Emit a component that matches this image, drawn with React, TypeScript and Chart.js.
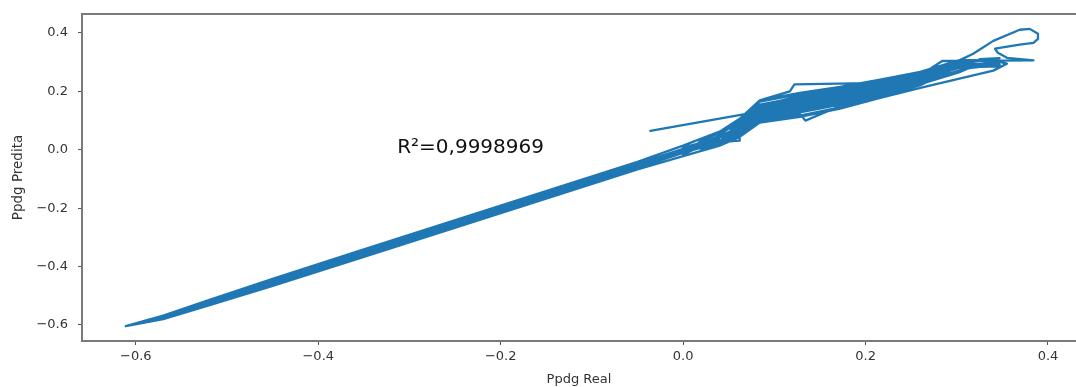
import { useEffect, useRef } from "react";
import { Chart, registerables } from "chart.js";

Chart.register(...registerables);

// Series: Ppdg Real (x) vs Ppdg Predita (y), traced in plotting order
const ppdgReal = [
  -0.036, 0.077, 0.084, 0.128, 0.172, 0.216, 0.26, 0.304, 0.31, 0.26, 0.216, 0.172, 0.128, 0.084, 0.062, 0.04, 0.0,
  -0.05, -0.2, -0.35, -0.45, -0.52, -0.57, -0.611,
  -0.57, -0.52, -0.45, -0.35, -0.2, -0.05, 0.0, 0.04, 0.062, 0.084, 0.117, 0.122, 0.219, 0.26, 0.304,
  0.318, 0.34, 0.369, 0.38, 0.389, 0.389, 0.384, 0.369, 0.347, 0.342, 0.345, 0.355, 0.384,
  0.347, 0.284, 0.26, 0.216, 0.172, 0.128, 0.084, 0.062, 0.084, 0.128, 0.134, 0.172, 0.216, 0.26, 0.304, 0.31,
  0.304, 0.26, 0.216, 0.172, 0.128, 0.084, 0.062, 0.062, 0.04, 0.0,
  -0.05, -0.2, -0.35, -0.45, -0.52, -0.57, -0.611,
  -0.57, -0.52, -0.45, -0.35, -0.2, -0.05, 0.0, 0.04, 0.062, 0.084, 0.128, 0.172, 0.216, 0.26, 0.34, 0.355,
  0.347, 0.304, 0.26, 0.216, 0.172, 0.128, 0.084, 0.062, 0.084, 0.128, 0.172, 0.216, 0.26, 0.304, 0.347,
  0.304, 0.26, 0.216, 0.172, 0.128, 0.084, 0.062, 0.04, 0.02,
  0.04, 0.062, 0.084, 0.128, 0.172, 0.216, 0.26, 0.304,
  0.26, 0.216, 0.172, 0.128, 0.084, 0.062, 0.04, 0.02,
  0.04, 0.062, 0.084, 0.128, 0.172, 0.216, 0.26, 0.304,
  0.26, 0.216, 0.172, 0.128, 0.084, 0.062, 0.04,
  0.062, 0.084, 0.128, 0.172, 0.216, 0.26, 0.304,
  0.26, 0.216, 0.172, 0.128, 0.084, 0.062, 0.04,
  0.062, 0.084, 0.128, 0.172, 0.216, 0.26, 0.304, 0.347,
  0.304, 0.347, 0.304, 0.347, 0.325, 0.347,
  0.304, 0.26, 0.216, 0.172, 0.128, 0.084, 0.062,
  0.04, 0.02, 0.0, 0.02, 0.04, 0.062, 0.062, 0.04, 0.02, 0.0, 0.02, 0.04,
  0.0, -0.05, -0.2, -0.35, -0.45, -0.52, -0.57, -0.611,
];
const ppdgPredita = [
  0.065, 0.127, 0.15, 0.185, 0.206, 0.232, 0.261, 0.303, 0.296, 0.237, 0.202, 0.169, 0.144, 0.122, 0.068, 0.041, 0.003,
  -0.047, -0.197, -0.347, -0.448, -0.519, -0.571, -0.604,
  -0.568, -0.515, -0.442, -0.341, -0.191, -0.041, 0.014, 0.062, 0.106, 0.169, 0.2, 0.224, 0.229, 0.267, 0.308,
  0.329, 0.373, 0.411, 0.414, 0.397, 0.38, 0.366, 0.36, 0.349, 0.346, 0.332, 0.315, 0.306,
  0.305, 0.304, 0.255, 0.224, 0.196, 0.175, 0.15, 0.09, 0.102, 0.123, 0.1, 0.15, 0.186, 0.225, 0.267, 0.275,
  0.291, 0.249, 0.216, 0.187, 0.164, 0.14, 0.082, 0.031, 0.026, -0.011,
  -0.061, -0.211, -0.361, -0.46, -0.529, -0.577, -0.604,
  -0.58, -0.533, -0.466, -0.367, -0.217, -0.067, -0.022, 0.014, 0.044, 0.093, 0.113, 0.141, 0.178, 0.212, 0.271, 0.295,
  0.301, 0.273, 0.231, 0.194, 0.16, 0.133, 0.112, 0.06, 0.131, 0.154, 0.178, 0.209, 0.243, 0.285, 0.301,
  0.306, 0.265, 0.236, 0.211, 0.191, 0.165, 0.102, 0.06, 0.035,
  0.041, 0.078, 0.135, 0.159, 0.182, 0.212, 0.246, 0.288,
  0.221, 0.182, 0.145, 0.117, 0.097, 0.048, 0.016, -0.001,
  0.053, 0.094, 0.155, 0.18, 0.201, 0.228, 0.258, 0.3,
  0.234, 0.198, 0.164, 0.139, 0.117, 0.064, 0.029,
  0.086, 0.145, 0.169, 0.192, 0.22, 0.252, 0.294,
  0.228, 0.19, 0.155, 0.128, 0.107, 0.056, 0.023,
  0.1, 0.169, 0.195, 0.215, 0.24, 0.267, 0.308, 0.305,
  0.276, 0.292, 0.296, 0.314, 0.31, 0.286,
  0.282, 0.24, 0.205, 0.174, 0.149, 0.127, 0.075,
  0.048, 0.024, 0.008, 0.005, 0.02, 0.052, 0.098, 0.058, 0.031, -0.016, 0.012, 0.034,
  -0.004, -0.054, -0.204, -0.354, -0.454, -0.524, -0.574, -0.604,
];

const xTickValues = [-0.6, -0.4, -0.2, 0.0, 0.2, 0.4];
const yTickValues = [-0.6, -0.4, -0.2, 0.0, 0.2, 0.4];
const xAxisTitle = "Ppdg Real";
const yAxisTitle = "Ppdg Predita";
const r2Text = "R²=0,9998969";
const r2Anchor = { x: -0.3135, y: -0.012 };

const fmt = (v: number) => (Math.abs(v) < 1e-9 ? 0 : v).toFixed(1).replace("-", "\u2212");

const topSpine = {
  id: "topSpine",
  afterDraw(chart: any) {
    const { ctx, chartArea } = chart;
    ctx.save();
    ctx.strokeStyle = "#7a7a7a";
    ctx.lineWidth = 2;
    ctx.beginPath();
    ctx.moveTo(chartArea.left - 1, chartArea.top);
    ctx.lineTo(chartArea.right + 2, chartArea.top);
    ctx.stroke();
    ctx.restore();
  },
};

const r2Label = {
  id: "r2Label",
  afterDatasetsDraw(chart: any) {
    const { ctx, scales } = chart;
    ctx.save();
    ctx.font = "20px 'DejaVu Sans'";
    ctx.fillStyle = "#111";
    ctx.textAlign = "left";
    ctx.textBaseline = "alphabetic";
    ctx.fillText(r2Text, scales.x.getPixelForValue(r2Anchor.x), scales.y.getPixelForValue(r2Anchor.y));
    ctx.restore();
  },
};

export default function App() {
  const ref = useRef<HTMLCanvasElement>(null);
  useEffect(() => {
    const points = ppdgReal.map((x, i) => ({ x, y: ppdgPredita[i] }));
    const tickFont = { family: "DejaVu Sans", size: 13 };
    const chart = new Chart(ref.current!, {
      type: "line",
      data: {
        datasets: [
          {
            data: points,
            borderColor: "#1f77b4",
            borderWidth: 2.3,
            pointRadius: 0,
            tension: 0,
            fill: false,
            borderJoinStyle: "round",
            borderCapStyle: "round",
          },
        ],
      },
      options: {
        animation: false,
        responsive: true,
        maintainAspectRatio: false,
        layout: { padding: { top: 14, right: 0, bottom: 0, left: 0 } },
        plugins: { legend: { display: false }, tooltip: { enabled: false } },
        scales: {
          x: {
            type: "linear",
            min: -0.659,
            max: 0.4307,
            afterBuildTicks: (s: any) => {
              s.ticks = xTickValues.map((v) => ({ value: v }));
            },
            afterFit: (s: any) => {
              s.height = 46;
              s.paddingLeft = 0;
              s.paddingRight = 0;
            },
            ticks: { callback: (v: any) => fmt(Number(v)), font: tickFont, color: "#333", padding: 4, maxRotation: 0, autoSkip: false },
            grid: { drawOnChartArea: false, drawTicks: true, tickLength: 4, tickColor: "#555" },
            border: { display: true, color: "#7a7a7a", width: 2 },
            title: { display: true, text: xAxisTitle, font: { family: "DejaVu Sans", size: 13 }, color: "#333", padding: { top: 0, bottom: 0 } },
          },
          y: {
            type: "linear",
            min: -0.655,
            max: 0.465,
            afterBuildTicks: (s: any) => {
              s.ticks = yTickValues.map((v) => ({ value: v }));
            },
            afterFit: (s: any) => {
              s.width = 82;
              s.paddingTop = 0;
              s.paddingBottom = 0;
            },
            ticks: { callback: (v: any) => fmt(Number(v)), font: tickFont, color: "#333", padding: 10, autoSkip: false },
            grid: { drawOnChartArea: false, drawTicks: true, tickLength: 4, tickColor: "#555" },
            border: { display: true, color: "#7a7a7a", width: 2 },
            title: { display: true, text: yAxisTitle, font: { family: "DejaVu Sans", size: 13.5 }, color: "#333", padding: { top: 10, bottom: 0 } },
          },
        },
      },
      plugins: [topSpine, r2Label],
    } as any);
    return () => chart.destroy();
  }, []);
  return (
    <div style={{ position: "absolute", left: 0, top: 0, width: 1076, height: 387 }}>
      <canvas ref={ref} />
    </div>
  );
}
